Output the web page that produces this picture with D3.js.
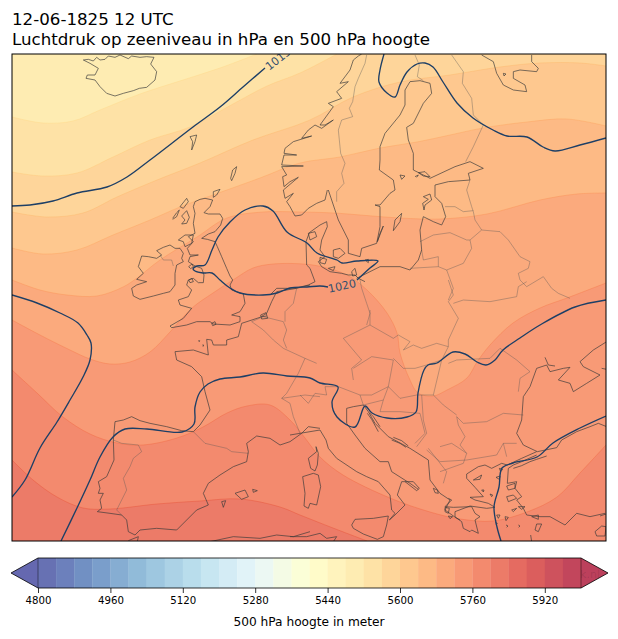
<!DOCTYPE html>
<html>
<head>
<meta charset="utf-8">
<script src="https://cdn.jsdelivr.net/npm/d3@7"></script>
<style>
  html, body { margin: 0; padding: 0; background: #fff; }
  text { font-family: "DejaVu Sans", sans-serif; }
</style>
</head>
<body>
<script>
function tile(ox, oy, pts) {
  return pts.map(p => [ox + p[0] / 3, oy + p[1] / 3]);
}

var titleLines = ['12-06-1825 12 UTC', 'Luchtdruk op zeeniveau in hPa en 500 hPa hoogte'];
var barLabel = '500 hPa hoogte in meter';
var barTicks = [4800, 4960, 5120, 5280, 5440, 5600, 5760, 5920];
var barLevels = d3.range(4800, 6000, 40);
var cmapStops = ['#313695', '#4575b4', '#74add1', '#abd9e9', '#e0f3f8', '#ffffbf', '#fee090', '#fdae61', '#f46d43', '#d73027', '#a50026'];

// 500 hPa height: the band under everything, then the lines above it
var baseLevel = 5480;
var heightLevels = [5520, 5560, 5600, 5640, 5680, 5720, 5760, 5800];
var heightLines = [
  [[12,117],[43,123],[73,121],[100,110],[140,94],[183,80],[220,68],[257,54]],
  [[12,172],[43,176],[77,173],[113,157],[150,140],[190,127],[233,104],[267,86],[300,73],[337,54]],
  [[12,212],[47,217],[83,213],[117,197],[157,180],[200,163],[253,140],[310,120],[353,97],[400,82],[450,75],[500,67],[540,63],[580,63],[606,66]],
  [[12,248],[43,254],[77,250],[113,235],[150,220],[180,207],[213,195],[260,178],[300,163],[340,157],[380,148],[417,142],[450,135],[483,128],[527,122],[567,119],[606,126]],
  [[12,280],[40,290],[67,295],[97,296],[123,287],[137,278],[160,260],[197,237],[227,218],[263,212],[300,212],[333,213],[400,218],[440,219],[487,214],[540,200],[577,194],[606,193]],
  [[12,320],[40,335],[70,350],[90,359],[110,364],[130,362],[150,352],[170,332],[192,308],[213,293],[233,280],[253,268],[273,264],[303,264],[323,267],[347,275],[367,290],[387,313],[397,333],[400,353],[410,380],[418,393],[433,396],[447,390],[467,378],[477,362],[490,345],[513,323],[540,308],[567,298],[606,283]],
  [[12,370],[37,393],[63,417],[90,434],[117,443],[143,445],[177,438],[203,427],[227,413],[247,406],[270,405],[290,420],[305,438],[320,457],[343,475],[390,498],[430,512],[460,519],[493,521],[527,512],[557,497],[580,473],[606,445]],
  [[12,460],[33,480],[57,497],[83,508],[110,509],[157,504],[200,501],[240,499],[280,507],[300,515],[333,528],[367,541]]
];

// sea level pressure isobars
var isobarValues = [1015, 1015, 1020, 1015, 1015, 1015];
var isobarLines = [
  [[12,206],[30,205],[53,201],[77,193],[107,187],[127,177],[150,160],[193,127],[220,107],[243,87],[265,68]],
  [[384,54],[380,70],[379,82],[387,93],[395,97],[400,85],[407,72],[417,64],[425,63],[433,67],[443,82],[457,103],[473,118],[493,130],[507,136],[527,137],[543,147],[555,151],[580,145],[606,138]],
  [[328,287],[320,286],[307,287],[290,288],[277,293],[263,295],[240,293],[230,288],[220,280],[212,273],[203,273],[195,271],[193,269],[197,266],[205,265],[212,250],[218,237],[230,222],[245,210],[263,206],[273,211],[287,232],[307,243],[317,253],[337,260],[342,263],[357,261],[378,261],[370,268],[357,280]],
  [[12,295],[37,303],[60,313],[78,323],[87,335],[91,343],[90,360],[83,377],[70,400],[57,422],[40,448],[25,480],[12,497]],
  [[61,541],[77,508],[90,480],[100,457],[113,437],[125,429],[147,429],[182,432],[194,424],[195,407],[200,392],[208,384],[220,379],[240,377],[263,373],[287,376],[310,378],[320,383],[338,387],[332,402],[337,417],[355,427],[365,406],[372,413],[387,418],[407,417],[416,412],[418,393],[424,370],[428,365],[437,363],[453,352],[465,354],[477,362],[486,365],[495,360],[503,350],[520,338],[540,325],[575,307],[606,300]],
  [[501,541],[497,527],[494,507],[499,487],[502,468],[513,463],[537,457],[553,443],[580,428],[606,416]]
];
var isobarLabels = [
  {text: '1015', at: [278, 59], angle: -38},
  {text: '1020', at: [342, 286], angle: -12}
];

var coastLines = [
  // Iceland
  tile(0, 0, [[250,180],[265,178],[280,183],[290,172],[300,180],[315,178],[325,168],[345,172],[360,165],[385,176],[395,168],[420,172],[440,170],[462,172],[452,192],[470,215],[465,240],[440,262],[418,265],[400,272],[370,280],[345,288],[320,280],[300,260],[285,240],[258,235],[262,225],[285,225],[295,205],[270,190],[250,180]]),
  // Faroe, Shetland, Orkney
  tile(0, 0, [[570,410],[590,405],[585,425],[575,450],[578,425],[570,410]]),
  tile(0, 0, [[698,510],[710,500],[705,520],[695,542],[692,535],[698,510]]),
  tile(0, 0, [[640,575],[660,568],[650,585],[640,592],[640,575]]),
  // Great Britain
  tile(130, 190, [[195,35],[210,28],[225,25],[248,30],[240,50],[222,68],[235,72],[270,72],[278,85],[272,105],[255,125],[235,132],[215,145],[232,148],[255,155],[262,170],[275,200],[290,235],[300,258],[308,270],[300,285],[305,300],[340,312],[345,340],[330,365],[305,375],[330,380],[330,395],[300,405],[250,402],[240,395],[200,395],[170,405],[125,413],[120,408],[160,385],[185,355],[150,345],[145,330],[175,320],[185,300],[170,285],[175,270],[190,265],[205,278],[220,278],[222,255],[215,235],[195,228],[175,215],[180,200],[205,195],[180,195],[172,175],[190,155],[175,140],[195,130],[190,100],[195,70],[190,50],[195,35]]),
  tile(130, 190, [[150,50],[170,25],[175,35],[160,55],[150,50]]),
  tile(130, 190, [[128,85],[140,68],[148,60],[140,80],[128,88]]),
  tile(130, 190, [[155,78],[170,62],[178,82],[170,100],[155,102],[165,90],[155,78]]),
  tile(130, 190, [[145,150],[165,135],[190,135],[185,160],[165,170],[160,155],[145,150]]),
  tile(130, 190, [[176,230],[186,222],[190,230],[182,236],[176,230]]),
  tile(130, 190, [[176,270],[186,265],[190,275],[180,278],[176,270]]),
  tile(130, 190, [[245,400],[255,395],[258,403],[248,407],[245,400]]),
  // Channel Islands
  tile(130, 190, [[205,452],[209,452],[207,456]]),
  tile(130, 190, [[217,465],[221,465],[219,470]]),
  // Ireland
  tile(130, 190, [[80,182],[100,172],[120,165],[135,175],[150,175],[160,190],[155,205],[160,215],[140,225],[135,250],[135,285],[120,305],[100,310],[70,318],[30,328],[10,318],[5,295],[20,285],[50,275],[20,268],[40,250],[25,230],[35,198],[55,200],[80,205],[95,195],[80,182]]),
  // Iberia and the French Mediterranean coast
  tile(0, 280, [[340,480],[342,540],[320,590],[295,605],[300,625],[295,640],[310,640],[300,660],[305,685],[292,695],[330,700],[365,705],[380,720],[385,755],[405,765],[420,750],[470,745],[530,750],[545,735],[590,690],[625,675],[610,640],[625,610],[660,585],[700,560],[740,545],[745,515],[740,490],[770,468],[810,475],[840,495],[870,485],[905,460],[925,440],[960,445]]),
  // Galicia to the Low Countries
  tile(0, 280, [[340,480],[345,425],[370,420],[395,410],[420,422],[450,430],[500,440],[545,452],[580,455],[600,435],[630,390],[615,335],[605,290],[575,260],[530,240],[525,215],[580,210],[625,225],[620,178],[635,180],[640,195],[680,195],[680,180],[715,170],[725,130],[780,112],[800,100],[815,65],[830,35],[890,25],[930,15]]),
  // Scheldt mouth
  tile(0, 280, [[782,105],[798,98],[803,115],[785,117],[782,105]]),
  tile(0, 280, [[786,110],[800,108]]),
  // Germany, Jutland
  tile(270, 200, [[0,285],[20,265],[75,265],[115,255],[135,245],[120,205],[110,195],[108,125],[118,98],[150,75],[170,65],[172,80],[155,120],[150,150],[165,170],[145,185],[155,200],[180,215],[215,220],[235,225],[255,225],[265,235],[285,245]]),
  // south Baltic, Baltics, Finland, Bothnia, Sweden
  tile(300, 40, [[170,715],[240,680],[300,680],[330,690],[355,660],[365,630],[360,570],[370,530],[400,545],[425,555],[437,530],[425,490],[405,470],[405,435],[445,425],[510,420],[505,400],[550,385],[510,365],[465,380],[390,415],[340,390],[340,340],[325,300],[320,262],[340,250],[370,190],[395,160],[390,130],[360,122],[330,125],[315,150],[315,195],[300,225],[255,280],[240,320],[240,360],[238,390],[280,420],[285,450],[270,460],[240,495],[225,495],[240,500],[240,560],[230,610],[185,625],[180,650],[145,640],[145,600],[115,540],[95,480],[85,450]]),
  // Norway
  tile(270, 50, [[172,420],[165,450],[140,460],[115,475],[95,495],[75,498],[60,470],[50,455],[70,430],[45,445],[40,420],[85,382],[60,395],[42,410],[38,380],[50,375],[35,350],[100,348],[35,345],[42,315],[80,315],[42,310],[45,295],[70,275],[125,258],[95,265],[115,240],[135,225],[155,235],[190,210],[165,225],[150,225],[190,170],[175,160],[215,145],[200,125],[235,95],[210,100],[240,60],[250,30],[265,18],[275,12]]),
  // Kola, White Sea
  tile(300, 40, [[545,45],[580,65],[590,100],[610,135],[640,150],[680,155],[675,135],[640,115],[640,95],[660,90],[710,95],[715,85],[695,65],[695,45]]),
  tile(300, 40, [[610,100],[618,102],[612,108],[610,100]]),
  // Baltic islands
  tile(300, 40, [[305,520],[300,545],[280,572],[285,540],[305,520]]),
  tile(300, 40, [[250,558],[232,605],[240,580],[250,558]]),
  tile(300, 40, [[300,405],[315,408],[305,418],[300,405]]),
  tile(300, 40, [[370,470],[390,462],[395,480],[375,495],[372,510],[368,490],[385,478],[370,470]]),
  tile(300, 40, [[345,410],[355,405],[350,412]]),
  tile(300, 40, [[355,398],[375,395],[390,410],[370,408],[355,398]]),
  // Danish islands
  tile(270, 200, [[190,150],[210,145],[225,160],[205,175],[190,170],[190,150]]),
  tile(270, 200, [[150,172],[170,178],[165,192],[150,188],[150,172]]),
  tile(270, 200, [[175,205],[195,200],[190,212],[175,205]]),
  tile(270, 200, [[245,215],[255,205],[260,225],[248,228],[245,215]]),
  tile(270, 200, [[115,100],[135,95],[140,110],[120,120],[115,100]]),
  tile(270, 200, [[285,180],[295,178],[295,188],[285,180]]),
  // Italy, Adriatic, Greece west
  tile(290, 430, [[0,15],[30,10],[90,0],[108,30],[115,55],[140,85],[200,125],[230,140],[265,155],[300,195],[305,240],[315,250],[298,270],[315,255],[345,225],[322,195],[335,155],[370,155],[388,175],[380,182],[345,155]]),
  tile(300, 280, [[355,628],[330,610],[275,575],[265,545],[240,545],[195,505],[165,465],[140,430],[140,385],[160,380],[190,375],[205,395],[225,430],[265,470],[330,505],[385,540],[390,600],[420,640],[450,660],[435,690],[470,715],[480,720]]),
  // Corsica, Sardinia, Sicily
  tile(290, 430, [[78,50],[80,65],[55,85],[62,115],[75,123],[82,105],[85,70],[78,50]]),
  tile(290, 430, [[38,140],[70,130],[85,135],[92,170],[80,225],[60,220],[55,235],[42,228],[45,190],[38,140]]),
  tile(290, 430, [[185,285],[195,268],[250,265],[295,258],[290,285],[280,320],[262,328],[220,312],[190,295],[185,285]]),
  // Balearics, Ceuta
  tile(0, 280, [[705,640],[735,630],[745,650],[725,658],[705,640]]),
  tile(0, 280, [[758,628],[772,632],[760,637],[758,628]]),
  tile(0, 280, [[665,665],[677,662],[670,682],[665,665]]),
  tile(0, 280, [[385,782],[415,770],[412,785]]),
  // North Africa
  tile(0, 280, [[630,785],[700,770],[780,775],[830,765],[880,770],[930,755]]),
  tile(290, 430, [[0,320],[50,320],[90,310],[110,325],[140,320],[130,335]]),
  // Croatian islands
  tile(280, 320, [[268,278],[280,290],[300,320]]),
  tile(280, 320, [[262,280],[275,298],[295,335]]),
  tile(280, 320, [[340,352],[365,362],[385,378]]),
  tile(280, 320, [[335,360],[360,370],[378,382]]),
  // Greece, north Aegean, Peloponnese
  tile(420, 400, [[85,295],[95,300],[75,320],[100,322],[155,320],[165,340],[180,350],[165,360],[175,400],[155,390],[150,395],[130,385],[125,365],[105,350],[105,335],[150,318],[200,325],[225,322],[205,310],[165,300],[150,292],[190,290],[165,262],[140,235],[140,222],[175,200],[195,195],[215,205],[245,190],[262,195],[305,175],[350,155]]),
  tile(420, 400, [[160,240],[185,225],[180,238],[160,240]]),
  // Turkey
  tile(420, 400, [[265,205],[262,250],[290,245],[285,265],[305,290],[290,300],[310,325],[320,345],[360,350],[390,350],[435,375],[470,340],[510,350],[555,340]]),
  tile(420, 400, [[350,165],[305,185],[280,195],[265,205]]),
  tile(420, 400, [[380,168],[350,178],[330,185],[305,197],[280,205]]),
  // Black Sea coast west and Ukraine
  tile(300, 280, [[712,515],[670,495],[650,460],[665,420],[670,350],[690,320],[710,265],[740,255],[750,275],[790,265],[810,262],[775,300],[810,310],[820,335],[860,310],[900,285],[850,260],[840,245],[880,210],[920,185]]),
  tile(300, 280, [[735,232],[745,255],[765,258]]),
  tile(300, 280, [[905,265],[920,268]]),
  // Turkey Black Sea
  tile(300, 280, [[712,515],[770,503],[785,480],[830,455],[870,440],[895,430],[920,440]]),
  // Cyclades and other Aegean islands
  tile(420, 400, [[255,350],[265,352],[258,362],[255,350]]),
  tile(420, 400, [[230,345],[240,345],[235,355],[230,345]]),
  tile(420, 400, [[260,290],[280,285],[290,295],[265,305],[260,290]]),
  tile(420, 400, [[260,258],[285,250],[285,265],[265,270],[260,258]]),
  tile(420, 400, [[275,330],[290,325],[280,335],[275,330]]),
  tile(420, 400, [[295,320],[315,320],[305,328],[295,320]]),
  tile(420, 400, [[335,350],[355,345],[355,358],[335,350]]),
  tile(420, 400, [[350,372],[365,372],[355,395],[345,390],[350,372]]),
  tile(420, 400, [[238,205],[248,208],[242,215],[238,205]]),
  tile(420, 400, [[228,232],[240,228],[238,238],[228,232]]),
  tile(420, 400, [[210,282],[218,285],[215,290],[210,282]]),
  tile(420, 400, [[185,270],[192,270],[190,276],[185,270]]),
  tile(420, 400, [[225,368],[232,370],[228,374]]),
  tile(420, 400, [[258,375],[264,378],[260,382]]),
  tile(420, 400, [[295,375],[300,378],[296,382]]),
  tile(420, 400, [[75,322],[88,325],[85,340],[75,335],[75,322]]),
  tile(420, 400, [[40,265],[52,270],[55,280],[45,278],[40,265]]),
  tile(420, 400, [[85,348],[98,350],[90,356],[85,348]]),
  tile(420, 400, [[332,405],[335,425]]),
  tile(420, 400, [[525,395],[545,378],[558,380],[555,408],[530,408],[525,395]]),
  tile(420, 400, [[540,348],[558,342]])
];

var borderLines = [
  tile(130, 190, [[90,195],[100,210],[125,210],[130,228]]),
  tile(270, 50, [[290,15],[285,40],[265,85],[255,110],[248,155],[238,175],[248,200],[215,210],[205,240],[212,310],[225,340],[215,370],[222,400],[200,425],[200,455]]),
  tile(300, 40, [[345,45],[358,75],[352,110],[370,122]]),
  tile(300, 40, [[455,45],[490,95],[487,130],[515,175],[520,225],[550,255],[520,320],[497,365]]),
  tile(300, 40, [[510,420],[500,450],[515,500],[520,515],[525,540],[545,570],[600,575],[625,600],[660,650],[690,665],[685,685],[655,700],[660,720],[680,740],[730,710],[755,745],[775,760],[810,775]]),
  tile(300, 40, [[435,500],[465,500],[490,515],[520,512]]),
  tile(300, 40, [[360,605],[400,585],[450,578],[500,600],[510,600],[545,570]]),
  tile(300, 40, [[365,630],[370,660],[415,650],[415,680],[330,685]]),
  tile(300, 40, [[510,600],[515,625],[490,670],[440,690],[415,680]]),
  tile(300, 40, [[440,690],[460,745],[445,780]]),
  // Germany, Czechia, Poland
  tile(270, 200, [[270,240],[275,265],[290,310],[300,340],[290,375]]),
  tile(300, 280, [[210,90],[210,135],[130,175],[185,240],[155,265],[160,300]]),
  tile(300, 280, [[210,135],[280,175],[295,165],[330,185],[310,210],[340,195],[365,205],[410,190],[445,200]]),
  tile(300, 280, [[445,0],[460,45],[445,65],[475,115],[445,180],[445,200],[425,240],[400,345]]),
  tile(300, 280, [[460,70],[490,60],[570,65],[650,50],[655,20],[680,5]]),
  // Austria, Hungary, Slovakia
  tile(300, 280, [[160,265],[215,230],[280,240],[265,320],[215,345],[180,345],[115,320]]),
  tile(300, 280, [[280,235],[310,265],[345,265],[380,255],[425,240]]),
  tile(300, 280, [[265,320],[300,355],[350,345],[400,345],[430,375],[470,405]]),
  tile(300, 280, [[445,250],[470,240],[570,235],[600,205],[650,240],[690,275],[660,295],[655,335]]),
  tile(300, 280, [[670,405],[610,400],[560,425],[490,430],[470,410],[475,435],[495,470],[480,495],[500,520]]),
  // Balkans
  tile(300, 280, [[365,345],[370,420],[380,460],[350,500]]),
  tile(300, 280, [[380,510],[420,545],[500,540],[590,525],[610,490],[650,490]]),
  tile(300, 280, [[610,490],[620,530]]),
  tile(300, 280, [[385,505],[440,575],[430,610]]),
  tile(300, 280, [[420,500],[455,490],[478,505],[500,520],[490,550],[420,575]]),
  tile(300, 280, [[0,345],[25,370],[45,340],[80,345],[75,320],[115,320]]),
  tile(300, 280, [[180,345],[190,375],[250,360],[265,320]]),
  tile(300, 280, [[250,360],[240,395],[300,395],[360,400],[375,460],[345,490]]),
  // France, Benelux, Switzerland
  tile(0, 280, [[755,125],[790,150],[820,180],[850,205],[915,235],[895,280],[860,340],[845,355],[870,370],[880,410],[900,460]]),
  tile(0, 280, [[755,125],[790,110],[850,125],[860,150],[850,180],[860,205]]),
  tile(0, 280, [[890,25],[880,70],[855,95],[855,125]]),
  tile(0, 280, [[845,355],[915,345],[960,350]]),
  tile(0, 280, [[915,235],[950,250]]),
  // Pyrenees, Portugal
  tile(0, 280, [[580,455],[615,490],[680,505],[695,515],[745,520]]),
  tile(0, 280, [[340,480],[365,490],[415,495],[425,515],[400,535],[390,560],[370,595],[380,630],[350,690],[365,705]])
];

var svg = d3.select('body').append('svg')
    .attr('width', 618)
    .attr('height', 639)
    .style('display', 'block');

var plot = {left: 12, right: 606, top: 54, bottom: 541},
    bar = {left: 38, right: 581, top: 558, bottom: 588, tip: 27};

// map pixels run straight through to the page
var x = d3.scaleLinear().domain([12, 606]).range([plot.left, plot.right]);
var y = d3.scaleLinear().domain([54, 541]).range([plot.top, plot.bottom]);

var cmap = d3.scaleLinear()
    .domain(d3.range(cmapStops.length).map(i => i / (cmapStops.length - 1)))
    .range(cmapStops);
var alpha = 0.75;

function levelColor(level) {
  var t = (level + 20 - 4800) / 1200;
  var c = d3.rgb(cmap(t));
  var mix = v => Math.round(v * alpha + 255 * (1 - alpha));
  return d3.rgb(mix(c.r), mix(c.g), mix(c.b)).formatHex();
}

svg.append('defs').append('clipPath').attr('id', 'plot-clip')
    .append('rect')
    .attr('x', plot.left)
    .attr('y', plot.top)
    .attr('width', plot.right - plot.left)
    .attr('height', plot.bottom - plot.top);

svg.selectAll('text.title')
    .data(titleLines)
    .enter().append('text')
    .attr('class', 'title')
    .attr('x', 12)
    .attr('y', (d, i) => 25 + i * 20)
    .attr('font-size', 16.67)
    .attr('fill', '#000')
    .text(d => d);

var map = svg.append('g').attr('clip-path', 'url(#plot-clip)');

map.append('rect')
    .attr('x', plot.left)
    .attr('y', plot.top)
    .attr('width', plot.right - plot.left)
    .attr('height', plot.bottom - plot.top)
    .attr('fill', levelColor(baseLevel));

var smooth = d3.line().x(d => x(d[0])).y(d => y(d[1])).curve(d3.curveCatmullRom.alpha(0.5));
var rough = d3.line().x(d => x(d[0])).y(d => y(d[1]));

// close a height line round the frame, clockwise, back to the left edge
function bandPath(pts) {
  var last = pts[pts.length - 1], corners = [];
  if (last[1] <= plot.top) corners.push([plot.right, plot.top]);
  if (last[0] >= plot.right || last[1] <= plot.top) corners.push([plot.right, plot.bottom]);
  corners.push([plot.left, plot.bottom]);
  return smooth(pts) + corners.map(c => 'L' + x(c[0]) + ',' + y(c[1])).join('') + 'Z';
}

map.selectAll('path.band')
    .data(heightLines)
    .enter().append('path')
    .attr('class', 'band')
    .attr('d', bandPath)
    .attr('fill', (d, i) => levelColor(heightLevels[i]));

map.selectAll('path.band-edge')
    .data(heightLines)
    .enter().append('path')
    .attr('class', 'band-edge')
    .attr('d', smooth)
    .attr('fill', 'none')
    .attr('stroke', (d, i) => cmap((heightLevels[i] + 20 - 4800) / 1200))
    .attr('stroke-opacity', 0.4)
    .attr('stroke-width', 1);

map.selectAll('path.border')
    .data(borderLines)
    .enter().append('path')
    .attr('class', 'border')
    .attr('d', rough)
    .attr('fill', 'none')
    .attr('stroke', '#555')
    .attr('stroke-opacity', 0.42)
    .attr('stroke-width', 0.9);

map.selectAll('path.coast')
    .data(coastLines)
    .enter().append('path')
    .attr('class', 'coast')
    .attr('d', rough)
    .attr('fill', 'none')
    .attr('stroke', '#3a3a3a')
    .attr('stroke-opacity', 0.85)
    .attr('stroke-width', 0.8);

map.selectAll('path.isobar')
    .data(isobarLines)
    .enter().append('path')
    .attr('class', 'isobar')
    .attr('data-hpa', (d, i) => isobarValues[i])
    .attr('d', smooth)
    .attr('fill', 'none')
    .attr('stroke', '#1d3f66')
    .attr('stroke-width', 1.35);

map.selectAll('text.isobar-label')
    .data(isobarLabels)
    .enter().append('text')
    .attr('class', 'isobar-label')
    .attr('transform', d => 'translate(' + x(d.at[0]) + ',' + y(d.at[1]) + ') rotate(' + d.angle + ')')
    .attr('text-anchor', 'middle')
    .attr('dy', '0.35em')
    .attr('font-size', 11.1)
    .attr('fill', '#34506f')
    .text(d => d.text);

svg.append('rect')
    .attr('x', plot.left)
    .attr('y', plot.top)
    .attr('width', plot.right - plot.left)
    .attr('height', plot.bottom - plot.top)
    .attr('fill', 'none')
    .attr('stroke', '#000')
    .attr('stroke-width', 1);

// colorbar
var barX = d3.scaleLinear().domain([4800, 6000]).range([bar.left, bar.right]);
var cb = svg.append('g');

cb.selectAll('rect.cell')
    .data(barLevels)
    .enter().append('rect')
    .attr('class', 'cell')
    .attr('x', d => barX(d))
    .attr('y', bar.top)
    .attr('width', d => barX(d + 40) - barX(d) + 0.3)
    .attr('height', bar.bottom - bar.top)
    .attr('fill', levelColor);

var mid = (bar.top + bar.bottom) / 2;
cb.append('path')
    .attr('d', 'M' + bar.left + ',' + bar.top + 'L' + (bar.left - bar.tip) + ',' + mid + 'L' + bar.left + ',' + bar.bottom + 'Z')
    .attr('fill', levelColor(4780));
cb.append('path')
    .attr('d', 'M' + bar.right + ',' + bar.top + 'L' + (bar.right + bar.tip) + ',' + mid + 'L' + bar.right + ',' + bar.bottom + 'Z')
    .attr('fill', levelColor(5980));

cb.append('text')
    .attr('x', 600)
    .attr('y', 578)
    .attr('text-anchor', 'end')
    .attr('font-size', 11)
    .attr('fill', '#000')
    .attr('fill-opacity', 0.12)
    .text('k.nl');

cb.append('path')
    .attr('d', 'M' + bar.left + ',' + bar.top + 'L' + (bar.left - bar.tip) + ',' + mid + 'L' + bar.left + ',' + bar.bottom +
      'L' + bar.right + ',' + bar.bottom + 'L' + (bar.right + bar.tip) + ',' + mid + 'L' + bar.right + ',' + bar.top + 'Z')
    .attr('fill', 'none')
    .attr('stroke', '#000')
    .attr('stroke-width', 0.8);

cb.selectAll('line.end')
    .data([bar.left, bar.right])
    .enter().append('line')
    .attr('class', 'end')
    .attr('x1', d => d).attr('x2', d => d)
    .attr('y1', bar.top).attr('y2', bar.bottom)
    .attr('stroke', '#000')
    .attr('stroke-opacity', 0.6)
    .attr('stroke-width', 0.7);

var axis = svg.append('g')
    .attr('transform', 'translate(0,' + bar.bottom + ')')
    .call(d3.axisBottom(barX).tickValues(barTicks).tickFormat(d3.format('d')).tickSize(5).tickPadding(4));
axis.select('.domain').remove();
axis.selectAll('text')
    .attr('font-family', '"DejaVu Sans", sans-serif')
    .attr('font-size', 10.2)
    .attr('fill', '#000');
axis.selectAll('line').attr('stroke', '#000').attr('stroke-width', 0.8);

svg.append('text')
    .attr('x', 309)
    .attr('y', 626)
    .attr('text-anchor', 'middle')
    .attr('font-size', 12.2)
    .attr('fill', '#000')
    .text(barLabel);
</script>
</body>
</html>
